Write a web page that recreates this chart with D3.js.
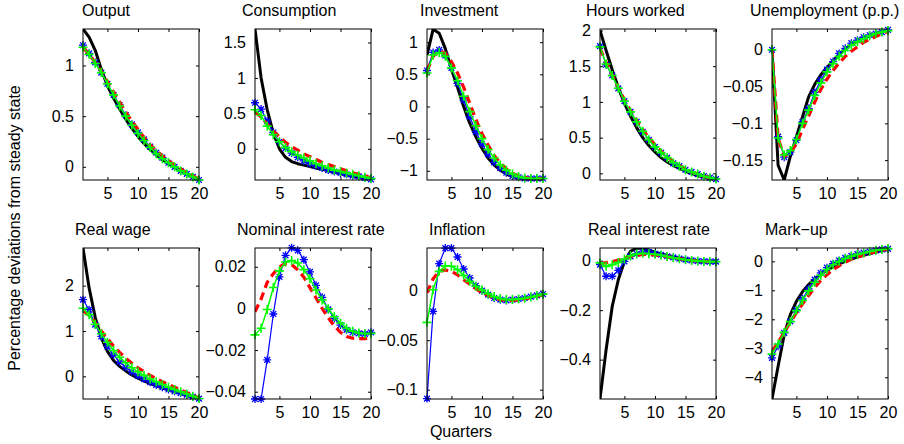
<!DOCTYPE html>
<html>
<head>
<meta charset="utf-8">
<script src="https://cdn.jsdelivr.net/npm/d3@7"></script>
<style>
  html, body { margin: 0; padding: 0; background: #fff; }
  svg { display: block; }
  text { font-family: "Liberation Sans", Arial, Helvetica, sans-serif; fill: #000; }
</style>
</head>
<body>
<svg id="chart" width="904" height="444"></svg>
<script>
// ---------------- DATA ----------------
const quarters = [1,2,3,4,5,6,7,8,9,10,11,12,13,14,15,16,17,18,19,20];

const titles = ["Output","Consumption","Investment","Hours worked","Unemployment (p.p.)",
                "Real wage","Nominal interest rate","Inflation","Real interest rate","Mark\u2212up"];

const yDomains = [
  [-0.13, 1.36], [-0.44, 1.69], [-1.143, 1.205], [-0.093, 2.02], [-0.177, 0.0282],
  [-0.5, 2.83], [-0.0435, 0.029], [-0.1094, 0.0431], [-0.559, 0.0512], [-4.75, 0.46]
];

const yTicks = [
  [0, 0.5, 1], [0, 0.5, 1, 1.5], [-1, -0.5, 0, 0.5, 1], [0, 0.5, 1, 1.5, 2], [-0.15, -0.1, -0.05, 0],
  [0, 1, 2], [-0.04, -0.02, 0, 0.02], [-0.1, -0.05, 0], [-0.4, -0.2, 0], [-4, -3, -2, -1, 0]
];

const xTicks = [5, 10, 15, 20];

// black solid line (null = not plotted)
const blackSeries = [
  [1.36,1.28,1.15,0.96,0.8,0.68,0.57,0.47,0.38,0.3,0.23,0.17,0.12,0.07,0.03,0.0,-0.04,-0.07,-0.1,-0.13],
  [1.69,1.0,0.55,0.22,0.0,-0.12,-0.18,-0.21,-0.23,-0.25,-0.27,-0.29,-0.31,-0.33,-0.35,-0.37,-0.39,-0.4,-0.42,-0.43],
  [0.8,1.2,1.14,0.9,0.58,0.3,0.0,-0.26,-0.47,-0.65,-0.8,-0.91,-0.99,-1.05,-1.09,-1.11,-1.12,-1.12,-1.12,-1.12],
  [2.0,1.72,1.45,1.2,0.98,0.8,0.64,0.5,0.39,0.3,0.22,0.16,0.11,0.07,0.03,0.0,-0.03,-0.05,-0.07,-0.09],
  [0.0,-0.157,-0.177,-0.145,-0.118,-0.091,-0.064,-0.047,-0.034,-0.024,-0.015,-0.006,0.001,0.007,0.012,0.016,0.019,0.022,0.024,0.026],
  [2.83,1.95,1.3,0.85,0.55,0.35,0.22,0.12,0.03,-0.04,-0.1,-0.16,-0.21,-0.26,-0.3,-0.34,-0.38,-0.42,-0.46,-0.5],
  null,
  null,
  [-0.559,-0.36,-0.185,-0.077,-0.003,0.038,0.051,0.05,0.042,0.034,0.027,0.021,0.015,0.01,0.006,0.002,-0.001,-0.003,-0.004,-0.004],
  [-4.75,-3.62,-2.53,-1.84,-1.38,-1.05,-0.8,-0.6,-0.44,-0.3,-0.19,-0.09,0.0,0.08,0.15,0.21,0.27,0.32,0.37,0.42]
];

// blue line with * markers
const blueSeries = [
  [1.2,1.12,1.03,0.93,0.82,0.71,0.61,0.51,0.42,0.34,0.27,0.2,0.14,0.09,0.04,0.0,-0.04,-0.07,-0.1,-0.13],
  [0.65,0.56,0.39,0.23,0.1,0.01,-0.06,-0.12,-0.17,-0.21,-0.24,-0.27,-0.3,-0.32,-0.34,-0.36,-0.38,-0.39,-0.41,-0.43],
  [0.56,0.84,0.88,0.79,0.6,0.36,0.1,-0.16,-0.39,-0.58,-0.74,-0.87,-0.96,-1.03,-1.08,-1.1,-1.12,-1.12,-1.12,-1.12],
  [1.78,1.52,1.37,1.19,1.01,0.86,0.72,0.58,0.47,0.37,0.29,0.22,0.14,0.1,0.05,0.02,-0.01,-0.04,-0.06,-0.08],
  [0.0,-0.118,-0.146,-0.139,-0.123,-0.098,-0.08,-0.058,-0.041,-0.027,-0.016,-0.005,0.002,0.009,0.013,0.017,0.02,0.022,0.024,0.027],
  [1.69,1.47,1.14,0.88,0.66,0.47,0.32,0.2,0.1,0.01,-0.06,-0.13,-0.19,-0.24,-0.29,-0.33,-0.37,-0.41,-0.45,-0.49],
  [-0.0435,-0.0435,-0.0247,-0.0027,0.0151,0.0255,0.0291,0.0279,0.0234,0.0175,0.0111,0.0053,-0.0005,-0.0048,-0.008,-0.0103,-0.0115,-0.012,-0.0122,-0.0115],
  [-0.109,-0.0209,0.0273,0.043,0.043,0.034,0.0219,0.0128,0.005,0.0,-0.004,-0.0074,-0.0091,-0.0098,-0.0091,-0.0084,-0.0074,-0.006,-0.0047,-0.0034],
  [-0.016,-0.063,-0.063,-0.039,-0.003,0.0175,0.028,0.034,0.035,0.028,0.024,0.018,0.013,0.008,0.004,0.001,-0.002,-0.003,-0.004,-0.004],
  [-3.33,-2.93,-2.47,-2.07,-1.67,-1.3,-0.95,-0.63,-0.4,-0.22,-0.08,0.03,0.12,0.19,0.25,0.3,0.34,0.38,0.41,0.43]
];

// red dashed line
const redSeries = [
  [1.18,1.11,1.03,0.94,0.84,0.74,0.64,0.54,0.45,0.37,0.29,0.22,0.16,0.11,0.06,0.02,-0.02,-0.06,-0.09,-0.12],
  [0.52,0.45,0.35,0.25,0.17,0.09,0.03,-0.02,-0.07,-0.11,-0.15,-0.19,-0.22,-0.25,-0.28,-0.31,-0.34,-0.36,-0.38,-0.41],
  [0.55,0.78,0.86,0.83,0.7,0.52,0.3,0.05,-0.2,-0.42,-0.6,-0.76,-0.88,-0.97,-1.04,-1.08,-1.1,-1.12,-1.12,-1.12],
  [1.75,1.55,1.38,1.2,1.03,0.88,0.74,0.61,0.5,0.4,0.31,0.23,0.16,0.11,0.06,0.02,-0.01,-0.04,-0.06,-0.08],
  [0.0,-0.12,-0.145,-0.14,-0.128,-0.108,-0.09,-0.071,-0.054,-0.04,-0.028,-0.018,-0.009,-0.002,0.004,0.01,0.014,0.018,0.022,0.025],
  [1.45,1.35,1.18,1.0,0.83,0.67,0.53,0.4,0.29,0.19,0.1,0.02,-0.05,-0.12,-0.18,-0.24,-0.3,-0.36,-0.42,-0.48],
  [-0.0016,0.0045,0.0125,0.0167,0.02,0.0215,0.021,0.0185,0.015,0.01,0.005,0.0,-0.0045,-0.0085,-0.0115,-0.0135,-0.0143,-0.0145,-0.0145,-0.0143],
  [-0.002,0.012,0.0195,0.021,0.0195,0.016,0.011,0.0065,0.002,-0.002,-0.005,-0.0075,-0.009,-0.0098,-0.0098,-0.0092,-0.0082,-0.007,-0.0055,-0.004],
  [-0.012,-0.008,-0.004,0.002,0.01,0.017,0.022,0.025,0.025,0.023,0.02,0.016,0.012,0.008,0.004,0.001,-0.001,-0.003,-0.004,-0.004],
  [-3.1,-2.8,-2.45,-2.1,-1.78,-1.47,-1.18,-0.9,-0.66,-0.46,-0.29,-0.15,-0.03,0.07,0.15,0.22,0.28,0.33,0.38,0.42]
];

// green line with + markers
const greenSeries = [
  [1.18,1.11,1.02,0.93,0.82,0.71,0.6,0.5,0.41,0.33,0.26,0.19,0.13,0.08,0.04,0.0,-0.04,-0.07,-0.1,-0.13],
  [0.55,0.47,0.32,0.2,0.1,0.02,-0.04,-0.09,-0.13,-0.17,-0.21,-0.24,-0.27,-0.3,-0.32,-0.34,-0.36,-0.38,-0.4,-0.42],
  [0.52,0.8,0.84,0.78,0.6,0.4,0.16,-0.08,-0.3,-0.5,-0.67,-0.8,-0.91,-0.99,-1.05,-1.09,-1.11,-1.12,-1.12,-1.12],
  [1.77,1.53,1.37,1.19,1.01,0.86,0.72,0.59,0.47,0.37,0.29,0.22,0.15,0.1,0.05,0.02,-0.01,-0.04,-0.06,-0.08],
  [0.0,-0.12,-0.143,-0.137,-0.122,-0.1,-0.082,-0.062,-0.045,-0.03,-0.019,-0.009,-0.001,0.006,0.011,0.015,0.019,0.022,0.024,0.026],
  [1.5,1.36,1.15,0.94,0.75,0.57,0.42,0.3,0.19,0.1,0.02,-0.06,-0.12,-0.18,-0.24,-0.29,-0.34,-0.39,-0.44,-0.49],
  [-0.0127,-0.0095,-0.0005,0.01,0.018,0.0223,0.023,0.0218,0.0186,0.0143,0.0088,0.004,-0.0002,-0.004,-0.007,-0.0095,-0.011,-0.0118,-0.0122,-0.012],
  [-0.032,0.001,0.0195,0.025,0.0246,0.0212,0.0155,0.0094,0.0044,0.0007,-0.003,-0.006,-0.008,-0.009,-0.009,-0.0085,-0.0077,-0.0065,-0.005,-0.0035],
  [-0.009,-0.023,-0.016,-0.007,0.007,0.02,0.027,0.03,0.028,0.026,0.022,0.017,0.012,0.008,0.004,0.001,-0.001,-0.003,-0.004,-0.004],
  [-3.2,-2.85,-2.45,-2.08,-1.7,-1.35,-1.02,-0.72,-0.48,-0.28,-0.12,0.0,0.1,0.18,0.24,0.29,0.34,0.38,0.41,0.44]
];

// ---------------- LAYOUT ----------------
const panelLeft = [83, 255, 427, 600, 772];
const panelTop = [29, 248];
const panelW = 116, panelH = 151;
const titleStart = [82, 242, 420, 586, 750, 75, 237, 429, 588, 765];
const FS = 16;

const svg = d3.select("#chart");

function fmt(v) {
  const s = String(+v.toFixed(4));
  return s.replace("-", "\u2212");
}

titles.forEach((title, i) => {
  const row = Math.floor(i / 5), col = i % 5;
  const x0 = panelLeft[col], y0 = panelTop[row];
  const x = d3.scaleLinear().domain([1, 20]).range([x0, x0 + panelW]);
  const y = d3.scaleLinear().domain(yDomains[i]).range([y0 + panelH, y0]);
  const g = svg.append("g");

  // clip
  const clipId = "clip" + i;
  svg.append("clipPath").attr("id", clipId).append("rect")
    .attr("x", x0).attr("y", y0).attr("width", panelW).attr("height", panelH);

  // axes: bottom/top with inward ticks
  const tl = 3;
  const axB = d3.axisBottom(x).tickValues(xTicks).tickSizeInner(-tl).tickSizeOuter(0).tickFormat(d3.format("d")).tickPadding(8);
  const axT = d3.axisTop(x).tickValues(xTicks).tickSizeInner(-tl).tickSizeOuter(0).tickFormat("");
  const axL = d3.axisLeft(y).tickValues(yTicks[i]).tickSizeInner(-tl).tickSizeOuter(0).tickFormat(fmt).tickPadding(9);
  const axR = d3.axisRight(y).tickValues(yTicks[i]).tickSizeInner(-tl).tickSizeOuter(0).tickFormat("");

  [[axB, `translate(0,${y0 + panelH})`], [axT, `translate(0,${y0})`],
   [axL, `translate(${x0},0)`], [axR, `translate(${x0 + panelW},0)`]].forEach(([ax, tr]) => {
    const a = g.append("g").attr("transform", tr).call(ax);
    a.select(".domain").remove();
    a.selectAll("line").attr("stroke", "#000").attr("stroke-width", 1);
    a.selectAll("text").attr("font-size", FS).attr("font-family", '"Liberation Sans", Arial, sans-serif').attr("fill", "#000");
  });

  const line = d3.line().defined(d => d[1] != null).x(d => x(d[0])).y(d => y(d[1]));
  const plot = g.append("g");
  const lines = plot.append("g").attr("clip-path", `url(#${clipId})`);

  if (blackSeries[i]) {
    lines.append("path").datum(quarters.map((q, k) => [q, blackSeries[i][k]]))
      .attr("d", line).attr("fill", "none").attr("stroke", "#000").attr("stroke-width", 3)
      .attr("stroke-linejoin", "round");
  }
  const bluePts = quarters.map((q, k) => [q, blueSeries[i][k]]);
  lines.append("path").datum(bluePts).attr("d", line).attr("fill", "none")
    .attr("stroke", "#0000ff").attr("stroke-width", 1.2);
  const greenPts = quarters.map((q, k) => [q, greenSeries[i][k]]);

  // blue * markers
  const rs = 4;
  const star = `M${-rs},0L${rs},0M0,${-rs}L0,${rs}M${-rs*0.72},${-rs*0.72}L${rs*0.72},${rs*0.72}M${-rs*0.72},${rs*0.72}L${rs*0.72},${-rs*0.72}`;
  plot.append("g").selectAll("path").data(bluePts).join("path")
    .attr("transform", d => `translate(${x(d[0])},${y(d[1])})`)
    .attr("d", star).attr("stroke", "#0000ff").attr("stroke-width", 1.3).attr("fill", "none");

  // red dashed
  const redPts = quarters.map((q, k) => [q, redSeries[i][k]]);
  plot.append("path").datum(redPts).attr("d", line).attr("fill", "none")
    .attr("stroke", "#ff0000").attr("stroke-width", 3.2).attr("stroke-dasharray", "8,5")
    .attr("clip-path", `url(#${clipId})`);

  // green line + markers
  plot.append("path").datum(greenPts).attr("d", line).attr("fill", "none")
    .attr("stroke", "#00ff00").attr("stroke-width", 1.5).attr("clip-path", `url(#${clipId})`);
  const rp = 4.5;
  plot.append("g").selectAll("path").data(greenPts).join("path")
    .attr("transform", d => `translate(${x(d[0])},${y(d[1])})`)
    .attr("d", `M${-rp},0L${rp},0M0,${-rp}L0,${rp}`)
    .attr("stroke", "#00ff00").attr("stroke-width", 1.6).attr("fill", "none");

  // box
  g.append("rect").attr("x", x0).attr("y", y0).attr("width", panelW).attr("height", panelH)
    .attr("fill", "none").attr("stroke", "#000").attr("stroke-width", 1);

  // title
  svg.append("text").attr("x", titleStart[i]).attr("y", y0 - 13)
    .attr("font-size", FS).text(title);
});

svg.append("text").attr("transform", "translate(20,228) rotate(-90)")
  .attr("text-anchor", "middle").attr("font-size", FS)
  .text("Percentage deviations from steady state");

svg.append("text").attr("x", 461).attr("y", 437).attr("text-anchor", "middle")
  .attr("font-size", FS).text("Quarters");
</script>
</body>
</html>
